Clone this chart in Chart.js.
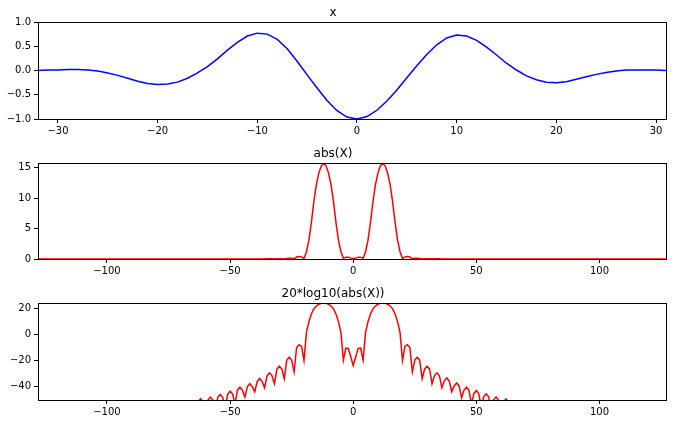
<!DOCTYPE html>
<html lang="en">
  <head>
    <meta charset="UTF-8">
    <title>x, abs(X), 20*log10(abs(X))</title>
    <style>
      body { margin: 0; background: #fff; }
      canvas { position: absolute; left: 0; }
    </style>
    <script src="https://cdn.jsdelivr.net/npm/chart.js"></script>
  </head>

  <body>
    <canvas id="sig" width="676" height="140" style="top:0px"></canvas>
    <canvas id="mag" width="676" height="140" style="top:140px"></canvas>
    <canvas id="db" width="676" height="144" style="top:280px"></canvas>

<script>
  // time samples of x
  const tSamples = [
    -32,-31,-30,-29,-28,-27,-26,-25,-24,-23,-22,-21,-20,-19,-18,-17,
    -16,-15,-14,-13,-12,-11,-10,-9,-8,-7,-6,-5,-4,-3,-2,-1,
    0,1,2,3,4,5,6,7,8,9,10,11,12,13,14,15,
    16,17,18,19,20,21,22,23,24,25,26,27,28,29,30,31
  ];
  const xValues = [
    0.00,0.01,0.01,0.02,0.02,0.01,-0.01,-0.05,-0.10,-0.16,-0.22,-0.27,-0.29,-0.28,-0.24,-0.16,
    -0.05,0.08,0.24,0.42,0.58,0.71,0.77,0.75,0.64,0.45,0.19,-0.09,-0.36,-0.62,-0.83,-0.96,
    -1.00,-0.95,-0.82,-0.63,-0.40,-0.15,0.10,0.33,0.53,0.67,0.73,0.71,0.62,0.48,0.32,0.15,
    0.01,-0.11,-0.19,-0.24,-0.25,-0.23,-0.18,-0.13,-0.08,-0.04,-0.01,0.01,0.01,0.01,0.01,0.00
  ];

  // frequency bins of X
  const bins = [-128,
    -68,-67,-66,-65,-64,-63,-62,-61,-60,-59,
    -58,-57,-56,-55,-54,-53,-52,-51,-50,-49,
    -48,-47,-46,-45,-44,-43,-42,-41,-40,-39,
    -38,-37,-36,-35,-34,-33,-32,-31,-30,-29,
    -28,-27,-26,-25,-24,-23,-22,-21,-20,-19,
    -18,-17,-16,-15,-14,-13,-12,-11,-10,-9,
    -8,-7,-6,-5,-4,-3,-2,-1,0,1,
    2,3,4,5,6,7,8,9,10,11,
    12,13,14,15,16,17,18,19,20,21,
    22,23,24,25,26,27,28,29,30,31,
    32,33,34,35,36,37,38,39,40,41,
    42,43,44,45,46,47,48,49,50,51,
    52,53,54,55,56,57,58,59,60,61,
    62,63,64,65,66,67,68,
    127];

  const absX = [0,
    0,0,0,0,0,0,0,0,0,0,
    0,0,0,0,0,0,0,0,0,0,
    0,0,0,0,0.01,0.01,0.01,0.01,0.01,0.02,
    0.02,0.02,0.01,0.03,0.03,0.03,0.01,0.05,0.06,0.05,
    0.02,0.10,0.13,0.11,0.04,0.32,0.41,0.35,0.10,1.2,
    3.1,6.0,9.4,12.2,14.1,15.3,15.8,15.3,14.1,12.2,
    9.4,6.0,3.1,1.2,0.11,0.30,0.30,0.14,0.065,0.14,
    0.30,0.30,0.11,1.2,3.1,6.0,9.4,12.2,14.1,15.3,
    15.8,15.3,14.1,12.2,9.4,6.0,3.1,1.2,0.10,0.35,
    0.41,0.32,0.04,0.11,0.13,0.10,0.02,0.05,0.06,0.05,
    0.01,0.03,0.03,0.03,0.01,0.02,0.02,0.02,0.01,0.01,
    0.01,0.01,0.01,0,0,0,0,0,0,0,
    0,0,0,0,0,0,0,0,0,0,
    0,0,0,0,0,0,0,
    0];

  // far bins are way below the -50 dB floor, left out
  const dbX = [null,
    -68,-53.6,-51.3,-53.4,-65,-51.5,-49.0,-51.3,-62,-50.1,
    -47.8,-50.0,-59,-48.0,-45.8,-47.9,-56,-45.6,-43.3,-45.4,
    -53,-42.5,-40.2,-42.4,-47.8,-39.9,-37.6,-39.8,-43.7,-35.9,
    -33.6,-35.8,-40.7,-31.6,-29.3,-31.4,-37.6,-26.5,-24.2,-26.3,
    -33.8,-19.8,-17.4,-19.5,-28.5,-10.0,-7.8,-9.0,-19.8,1.6,
    9.8,15.6,19.5,21.7,23.0,23.7,23.97,23.7,23.0,21.7,
    19.5,15.6,9.8,1.6,-19.5,-10.4,-10.6,-17.0,-23.7,-17.0,
    -10.6,-10.4,-19.5,1.6,9.8,15.6,19.5,21.7,23.0,23.7,
    23.97,23.7,23.0,21.7,19.5,15.6,9.8,1.6,-19.8,-9.0,
    -7.8,-10.0,-28.5,-19.5,-17.4,-19.8,-33.8,-26.3,-24.2,-26.5,
    -37.6,-31.4,-29.3,-31.6,-40.7,-35.4,-33.2,-35.6,-43.7,-39.3,
    -37.0,-39.4,-48.2,-42.4,-40.2,-42.6,-53,-45.0,-42.8,-45.2,
    -56,-47.4,-45.3,-47.6,-59,-49.8,-47.6,-50.0,-62,-51.5,
    -49.2,-51.6,-65,-53.5,-51.5,-53.6,-68,
    null];

  Chart.defaults.font.family = 'DejaVu Sans';
  Chart.defaults.font.size = 10;
  Chart.defaults.color = '#000';

  const minus = v => String(v).replace('-', '\u2212');

  // box around the plot area, like matplotlib spines
  const frame = {
    id: 'frame',
    afterDraw(chart) {
      const a = chart.chartArea;
      const c = chart.ctx;
      c.save();
      c.strokeStyle = '#000';
      c.lineWidth = 1;
      c.strokeRect(Math.round(a.left) + 0.5, Math.round(a.top) + 0.5,
                   Math.round(a.right - a.left), Math.round(a.bottom - a.top));
      c.restore();
    }
  };

  function makeChart(id, title, xs, ys, color, xr, yr, yFmt, titleTop, xAxisH) {
    return new Chart(document.getElementById(id), {
      type: 'line',
      data: {
        datasets: [{
          data: xs.map((x, i) => ({x: x, y: ys[i]})),
          borderColor: color,
          borderWidth: 1.5,
          pointRadius: 0,
          tension: 0,
          fill: false,
        }]
      },
      options: {
        responsive: false,
        animation: false,
        devicePixelRatio: 1,
        layout: { padding: { right: 10 } },
        plugins: {
          legend: { display: false },
          tooltip: { enabled: false },
          title: {
            display: true,
            text: title,
            color: '#000',
            font: { size: 12, weight: 'normal' },
            padding: { top: titleTop, bottom: 1.6 },
          },
        },
        scales: {
          x: {
            type: 'linear',
            min: xr[0], max: xr[1],
            grid: { drawOnChartArea: false, color: '#000', tickLength: 4 },
            border: { display: false },
            ticks: {
              stepSize: xr[2], includeBounds: false, autoSkip: false,
              maxRotation: 0, padding: 2, callback: v => minus(v),
            },
            afterFit: s => { s.height = xAxisH; },
          },
          y: {
            min: yr[0], max: yr[1],
            grid: { drawOnChartArea: false, color: '#000', tickLength: 4 },
            border: { display: false },
            ticks: {
              stepSize: yr[2], includeBounds: false, padding: 3,
              callback: v => minus(yFmt(v)),
            },
            afterFit: s => { s.width = 38; },
          },
        },
      },
      plugins: [frame],
    });
  }

  makeChart('sig', 'x', tSamples, xValues, '#0000ff',
            [-32, 31, 10], [-1, 1, 0.5], v => v.toFixed(1), 6, 21);
  makeChart('mag', 'abs(X)', bins, absX, '#ff0000',
            [-128, 127, 50], [0, 15.8, 5], v => v, 7, 21);
  makeChart('db', '20*log10(abs(X))', bins, dbX, '#ff0000',
            [-128, 127, 50], [-50, 23.97, 20], v => v, 7, 24);
</script>

  </body>
</html>
